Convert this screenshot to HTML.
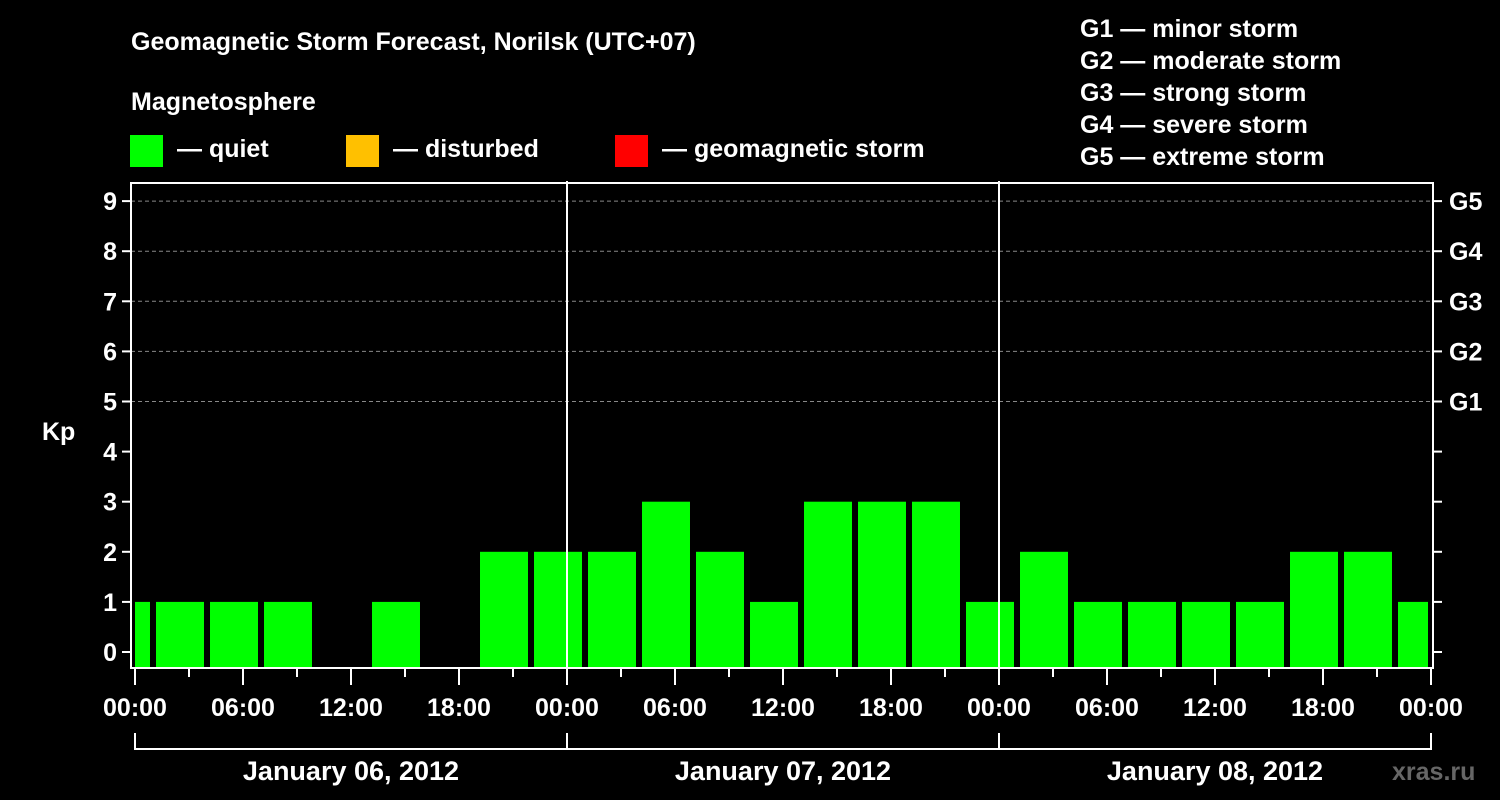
<!DOCTYPE html>
<html><head><meta charset="utf-8"><style>
html,body{margin:0;padding:0;background:#000;}
svg{display:block;font-family:"Liberation Sans",Arial,sans-serif;font-weight:bold;}
</style></head><body>
<svg id="chart" width="1500" height="800" viewBox="0 0 1500 800">
<rect width="1500" height="800" fill="#000"/>
<text x="131" y="50" fill="#fff" font-size="25">Geomagnetic Storm Forecast, Norilsk (UTC+07)</text>
<text x="131" y="110" fill="#fff" font-size="25">Magnetosphere</text>
<rect x="130" y="135" width="33" height="32" fill="#00ff00"/>
<text x="177" y="157" fill="#fff" font-size="25">— quiet</text>
<rect x="346" y="135" width="33" height="32" fill="#ffc000"/>
<text x="393" y="157" fill="#fff" font-size="25">— disturbed</text>
<rect x="615" y="135" width="33" height="32" fill="#ff0000"/>
<text x="662" y="157" fill="#fff" font-size="25">— geomagnetic storm</text>
<g fill="#fff" font-size="25">
<text x="1080" y="37">G1 — minor storm</text>
<text x="1080" y="69">G2 — moderate storm</text>
<text x="1080" y="101">G3 — strong storm</text>
<text x="1080" y="133">G4 — severe storm</text>
<text x="1080" y="165">G5 — extreme storm</text>
</g>
<g id="plot"></g>
<text x="1392" y="780" fill="#666" font-size="25">xras.ru</text>
</svg>
<script>
const hours = [-0.5,2.5,5.5,8.5,11.5,14.5,17.5,20.5,23.5,26.5,29.5,32.5,35.5,38.5,41.5,44.5,47.5,50.5,53.5,56.5,59.5,62.5,65.5,68.5,71.5];
const kpValues = [1,1,1,1,null,1,null,2,2,2,3,2,1,3,3,3,1,2,1,1,1,1,2,2,1];
const yTicks = [0,1,2,3,4,5,6,7,8,9];
const gLabels = ["G1","G2","G3","G4","G5"];
const xTickLabels = ["00:00","06:00","12:00","18:00","00:00","06:00","12:00","18:00","00:00","06:00","12:00","18:00","00:00"];
const dayLabels = ["January 06, 2012","January 07, 2012","January 08, 2012"];

const NS="http://www.w3.org/2000/svg";
const L=131,R=1433,T=183,B=668;
const x0=135, pxh=18;
const xs=h=>x0+h*pxh;
const ys=v=>652-v*50.1;
const g=document.getElementById('plot');
function mk(tag,attrs,parent){const e=document.createElementNS(NS,tag);for(const k in attrs)e.setAttribute(k,attrs[k]);(parent||g).appendChild(e);return e;}
// grid
for(let i=5;i<=9;i++){
  const l=mk('line',{x1:L,x2:R,y1:ys(i),y2:ys(i),stroke:'#888','stroke-dasharray':'4,3','stroke-width':1});
  
  
}
// bars
hours.forEach((h,i)=>{
  const v=kpValues[i]; if(v==null) return;
  let a=xs(h-1.333), b=xs(h+1.333);
  a=Math.max(a,x0); b=Math.min(b,1428);
  const r=mk('rect',{x:a,y:ys(v),width:b-a,height:B-ys(v),fill:v>=5?'#ff0000':(v>=4?'#ffc000':'#00ff00')});
  
  
});
// day dividers
[24,48].forEach(h=>{
  const l=mk('line',{x1:xs(h),x2:xs(h),y1:T-2,y2:B,stroke:'#fff','stroke-width':2});
  
  
});
// frame
const f=mk('rect',{x:L,y:T,width:R-L,height:B-T,fill:'none',stroke:'#fff','stroke-width':2});


// y ticks
yTicks.forEach(v=>{
  mk('line',{x1:122,x2:L,y1:ys(v),y2:ys(v),stroke:'#fff','stroke-width':2});
  mk('line',{x1:R,x2:1442,y1:ys(v),y2:ys(v),stroke:'#fff','stroke-width':2});
  const t=mk('text',{x:117,y:ys(v)+9,fill:'#fff','font-size':25,'text-anchor':'end'});
  t.textContent=v;
  
  
});
gLabels.forEach((s,i)=>{
  const t=mk('text',{x:1449,y:ys(5+i)+9,fill:'#fff','font-size':25});
  t.textContent=s;
  
  
});
const kp=mk('text',{x:42,y:440,fill:'#fff','font-size':25});
kp.textContent='Kp';


// x ticks
for(let h=0;h<=72;h+=3){
  const major=h%6===0;
  mk('line',{x1:xs(h),x2:xs(h),y1:B,y2:major?685:677,stroke:'#fff','stroke-width':2});
}
xTickLabels.forEach((s,i)=>{
  const t=mk('text',{x:xs(i*6),y:716,fill:'#fff','font-size':25,'text-anchor':'middle'});
  t.textContent=s;
  
  
});
// day brackets
mk('line',{x1:xs(0),x2:xs(72),y1:749,y2:749,stroke:'#fff','stroke-width':2});
[0,24,48,72].forEach(h=>mk('line',{x1:xs(h),x2:xs(h),y1:733,y2:750,stroke:'#fff','stroke-width':2}));
dayLabels.forEach((s,i)=>{
  const t=mk('text',{x:xs(i*24+12),y:780,fill:'#fff','font-size':27,'text-anchor':'middle'});
  t.textContent=s;
  
  
});
</script>
</body></html>
